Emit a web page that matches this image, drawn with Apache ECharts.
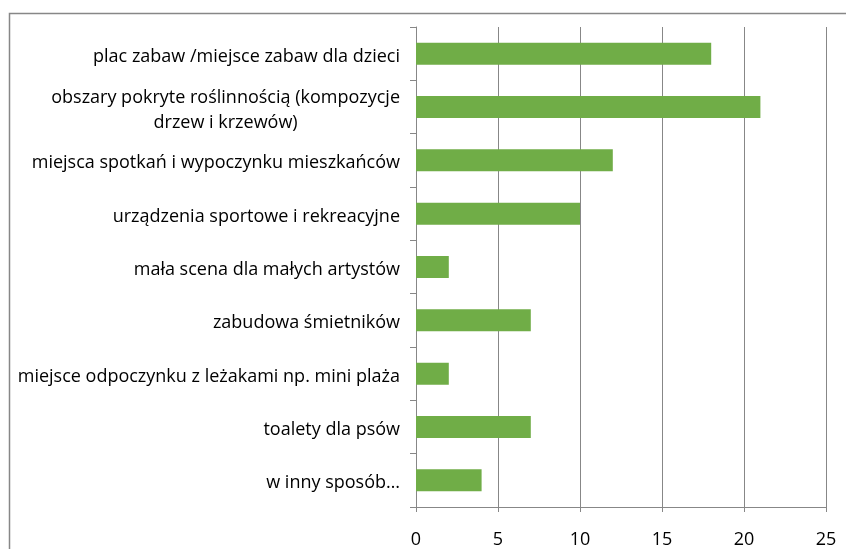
<!DOCTYPE html>
<html>
<head>
<meta charset="utf-8">
<script src="https://cdn.jsdelivr.net/npm/echarts@6/dist/echarts.min.js"></script>
<style>
  html, body { margin: 0; padding: 0; background: #fff; }
  #main { width: 846px; height: 549px; }
</style>
</head>
<body>
<div id="main"></div>
<script>
var categories = [
  'plac zabaw /miejsce zabaw dla dzieci',
  'obszary pokryte roślinnością (kompozycje\ndrzew i krzewów)',
  'miejsca spotkań i wypoczynku mieszkańców',
  'urządzenia sportowe i rekreacyjne',
  'mała scena dla małych artystów',
  'zabudowa śmietników',
  'miejsce odpoczynku z leżakami np. mini plaża',
  'toalety dla psów',
  'w inny sposób…'
];
var values = [18, 21, 12, 10, 2, 7, 2, 7, 4];
var xTicks = [0, 5, 10, 15, 20, 25];

var gray = '#878787';
var myChart = echarts.init(document.getElementById('main'));
myChart.setOption({
  animation: false,
  // ramka wykresu (obcięta z prawej i z dołu)
  graphic: [{
    type: 'rect',
    shape: { x: 9.5, y: 13.5, width: 900, height: 600 },
    style: { fill: 'none', stroke: gray, lineWidth: 1.5 },
    silent: true
  }],
  grid: { left: 416, right: 20, top: 27, bottom: 42 },
  xAxis: {
    type: 'value',
    min: xTicks[0],
    max: xTicks[xTicks.length - 1],
    interval: 5,
    axisLine: { show: true, lineStyle: { color: gray } },
    axisTick: { show: true, length: 5, lineStyle: { color: gray } },
    splitLine: { show: true, lineStyle: { color: gray, width: 1 } },
    axisLabel: {
      color: '#000',
      fontFamily: 'Open Sans',
      fontSize: 18,
      margin: 24
    }
  },
  yAxis: {
    type: 'category',
    inverse: true,
    data: categories,
    axisLine: { show: true, lineStyle: { color: gray } },
    axisTick: { show: true, length: 6, lineStyle: { color: gray } },
    axisLabel: {
      color: '#000',
      fontFamily: 'Open Sans',
      fontSize: 18,
      margin: 16,
      lineHeight: 25,
      padding: [6, 0, 0, 0],
      formatter: function (val) {
        return val.split('\n').map(function (s) { return '{c|' + s + '}'; }).join('\n');
      },
      rich: {
        c: { align: 'center', fontFamily: 'Open Sans', fontSize: 18, lineHeight: 25, color: '#000' }
      }
    }
  },
  series: [{
    type: 'bar',
    data: values,
    barWidth: 22,
    itemStyle: { color: '#70AD47' }
  }]
});
</script>
</body>
</html>
